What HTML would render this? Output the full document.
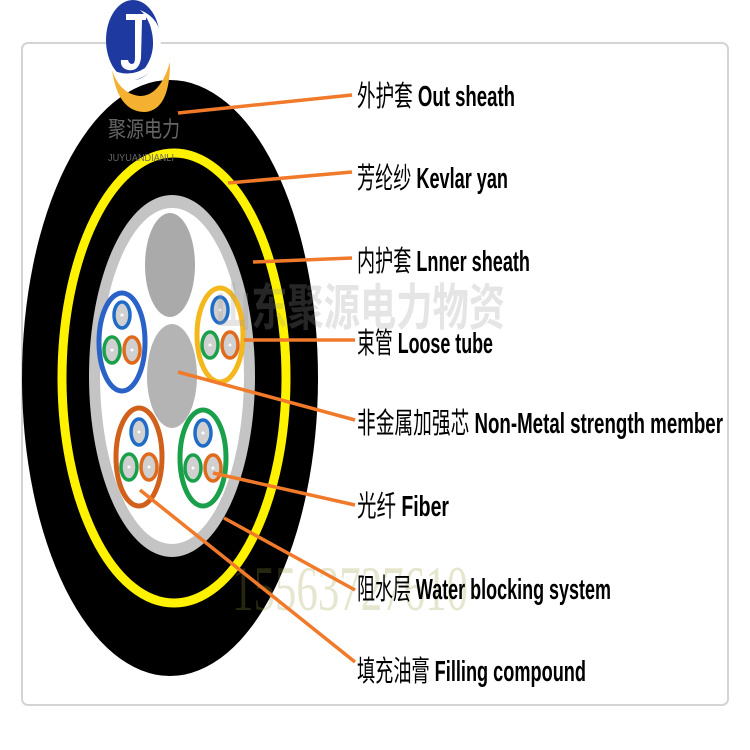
<!DOCTYPE html>
<html><head><meta charset="utf-8"><style>
html,body{margin:0;padding:0;background:#fff;}
svg{display:block;}
.t{font-family:"Liberation Sans","Noto Sans CJK SC",sans-serif;font-size:29px;fill:#000;}
.b{font-family:"Liberation Sans Narrow","Liberation Sans",sans-serif;font-weight:bold;}
</style></head><body>
<svg width="750" height="750" viewBox="0 0 750 750" xmlns="http://www.w3.org/2000/svg">
<rect x="22" y="43" width="706" height="662" rx="6" fill="#fff" stroke="#d4d4d4" stroke-width="2"/>
<!-- cable -->
<ellipse cx="170" cy="378" rx="148" ry="298" fill="#000"/>
<ellipse cx="174" cy="378" rx="112" ry="225" fill="none" stroke="#fff200" stroke-width="9"/>
<ellipse cx="172" cy="376" rx="83" ry="181" fill="#c4c4c4"/>
<ellipse cx="172" cy="376" rx="72" ry="168" fill="#fff"/>
<ellipse cx="170" cy="265" rx="25" ry="52" fill="#aaa"/>
<ellipse cx="172" cy="376" rx="25" ry="52" fill="#b4b4b4"/>
<!-- tubes -->
<g stroke-width="5" fill="#fff">
<ellipse cx="122" cy="342" rx="23" ry="49" stroke="#2a62c8"/>
<ellipse cx="220" cy="335" rx="23" ry="47" stroke="#f4b81c"/>
<ellipse cx="139" cy="457" rx="23" ry="49" stroke="#d0601a"/>
<ellipse cx="203" cy="458" rx="23" ry="48" stroke="#1aa04a"/>
</g>
<g stroke-width="3.5" fill="#d0d0d0">
<ellipse cx="122" cy="315" rx="8" ry="13" stroke="#1e6cc8"/>
<ellipse cx="112" cy="350" rx="8" ry="13" stroke="#1aa04a"/>
<ellipse cx="132" cy="350" rx="8" ry="13" stroke="#e06a1c"/>
<ellipse cx="220" cy="310" rx="8" ry="13" stroke="#1e6cc8"/>
<ellipse cx="210" cy="345" rx="8" ry="13" stroke="#1aa04a"/>
<ellipse cx="230" cy="345" rx="8" ry="13" stroke="#e06a1c"/>
<ellipse cx="139" cy="432" rx="8" ry="13" stroke="#1e6cc8"/>
<ellipse cx="129" cy="467" rx="8" ry="13" stroke="#1aa04a"/>
<ellipse cx="149" cy="467" rx="8" ry="13" stroke="#e06a1c"/>
<ellipse cx="203" cy="433" rx="8" ry="13" stroke="#1e6cc8"/>
<ellipse cx="193" cy="468" rx="8" ry="13" stroke="#1aa04a"/>
<ellipse cx="213" cy="468" rx="8" ry="13" stroke="#e06a1c"/>
</g>
<g fill="#fff">
<circle cx="122" cy="315" r="1.5"/><circle cx="112" cy="350" r="1.5"/><circle cx="132" cy="350" r="1.5"/>
<circle cx="220" cy="310" r="1.5"/><circle cx="210" cy="345" r="1.5"/><circle cx="230" cy="345" r="1.5"/>
<circle cx="139" cy="432" r="1.5"/><circle cx="129" cy="467" r="1.5"/><circle cx="149" cy="467" r="1.5"/>
<circle cx="203" cy="433" r="1.5"/><circle cx="193" cy="468" r="1.5"/><circle cx="213" cy="468" r="1.5"/>
</g>
<!-- watermarks -->
<text x="215" y="325" textLength="290" lengthAdjust="spacingAndGlyphs" font-family="'Noto Sans CJK SC',sans-serif" font-weight="bold" font-size="50" fill="#999" fill-opacity="0.25">山东聚源电力物资</text>
<text x="232" y="610" textLength="236" lengthAdjust="spacingAndGlyphs" font-family="'Liberation Serif',serif" font-size="64" fill="#9a9a40" fill-opacity="0.25">15563727610</text>
<!-- logo -->
<path d="M112,70 Q118,112 145,112 Q170,110 170,62 Q160,96 140,96 Q120,94 112,70Z" fill="#f4b030"/>
<ellipse cx="133" cy="40" rx="27" ry="40" fill="#1e3aa0"/>
<path d="M140,10 Q165,20 160,50 Q155,75 135,80 Q120,82 112,70 Q130,78 145,68 Q158,50 150,25 Q146,15 140,10Z" fill="#fff"/>
<path d="M126,14 L146,14 L146,20 L142,20 L141,58 Q139,72 128,70 Q120,68 121,60 L128,60 Q129,64 132,64 Q135,64 135,58 L135,20 L126,20Z" fill="#fff"/>
<text x="108" y="137" textLength="72" lengthAdjust="spacingAndGlyphs" font-family="'Noto Sans CJK SC',sans-serif" font-size="22" fill="#666">聚源电力</text>
<text x="108" y="161" textLength="66" lengthAdjust="spacingAndGlyphs" font-family="'Liberation Sans',sans-serif" font-size="10" fill="#666">JUYUANDIANLI</text>
<!-- leaders -->
<g stroke="#f07a2a" stroke-width="3.5" fill="none">
<line x1="178" y1="113" x2="352" y2="95"/>
<line x1="228" y1="183" x2="352" y2="172"/>
<line x1="253" y1="262" x2="352" y2="258"/>
<line x1="244" y1="340" x2="355" y2="340"/>
<line x1="178" y1="372" x2="355" y2="420"/>
<line x1="213" y1="473" x2="355" y2="505"/>
<line x1="224" y1="518" x2="355" y2="590"/>
<line x1="140" y1="490" x2="355" y2="662"/>
</g>
<!-- labels -->
<text class="t" x="357" y="106" textLength="158" lengthAdjust="spacingAndGlyphs">外护套 <tspan class="b">Out sheath</tspan></text>
<text class="t" x="357" y="188" textLength="151" lengthAdjust="spacingAndGlyphs">芳纶纱 <tspan class="b">Kevlar yan</tspan></text>
<text class="t" x="357" y="271" textLength="173" lengthAdjust="spacingAndGlyphs">内护套 <tspan class="b">Lnner sheath</tspan></text>
<text class="t" x="357" y="353" textLength="136" lengthAdjust="spacingAndGlyphs">束管 <tspan class="b">Loose tube</tspan></text>
<text class="t" x="357" y="433" textLength="366" lengthAdjust="spacingAndGlyphs">非金属加强芯 <tspan class="b">Non-Metal strength member</tspan></text>
<text class="t" x="357" y="516" textLength="92" lengthAdjust="spacingAndGlyphs">光纤  <tspan class="b">Fiber</tspan></text>
<text class="t" x="357" y="599" textLength="254" lengthAdjust="spacingAndGlyphs">阻水层 <tspan class="b">Water blocking system</tspan></text>
<text class="t" x="357" y="681" textLength="229" lengthAdjust="spacingAndGlyphs">填充油膏 <tspan class="b">Filling compound</tspan></text>
</svg>
</body></html>
